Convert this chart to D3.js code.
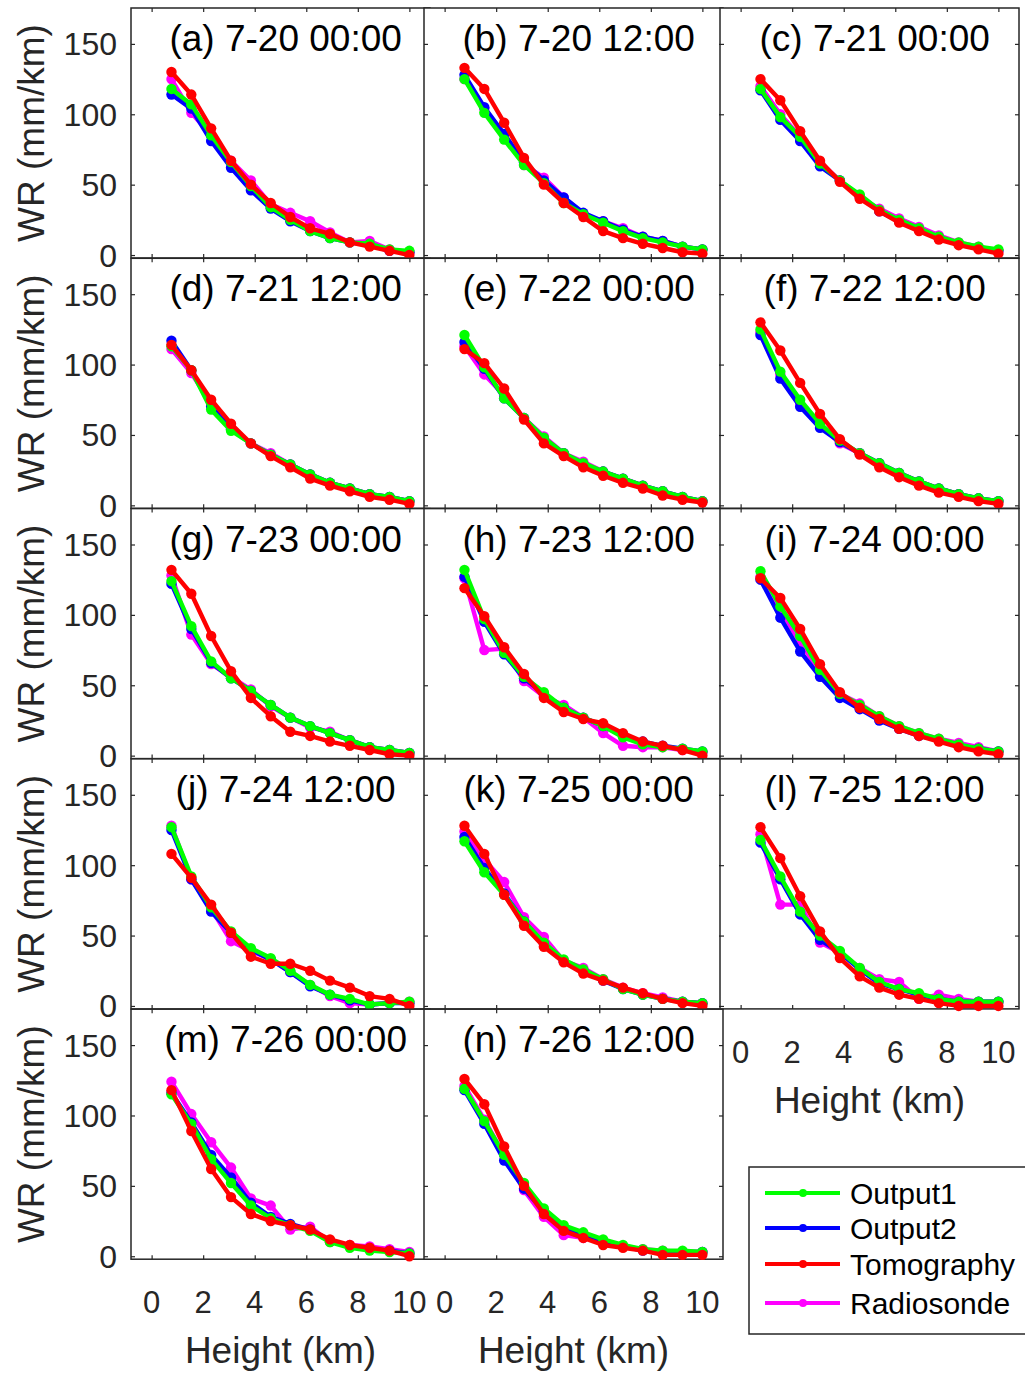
<!DOCTYPE html>
<html>
<head>
<meta charset="utf-8">
<script src="https://cdn.jsdelivr.net/npm/d3@7"></script>
<style>
  body { margin: 0; background: #fff; }
  svg { display: block; font-family: "Liberation Sans", Arial, sans-serif; }
</style>
</head>
<body>
<div id="chart"></div>
<script>
    // Heights of the profile levels (km)
    const heights = [0.77, 1.54, 2.31, 3.08, 3.85, 4.62, 5.38, 6.15, 6.92, 7.69, 8.46, 9.23, 10.0];

    const panelTitles = [
      "(a) 7-20 00:00", "(b) 7-20 12:00", "(c) 7-21 00:00",
      "(d) 7-21 12:00", "(e) 7-22 00:00", "(f) 7-22 12:00",
      "(g) 7-23 00:00", "(h) 7-23 12:00", "(i) 7-24 00:00",
      "(j) 7-24 12:00", "(k) 7-25 00:00", "(l) 7-25 12:00",
      "(m) 7-26 00:00", "(n) 7-26 12:00"
    ];

    const xTicks = [0, 2, 4, 6, 8, 10];
    const yTicks = [0, 50, 100, 150];

    const seriesNames = ["Output1", "Output2", "Tomography", "Radiosonde"];

    // WR (mm/km) per panel, one row per panel
    const output1 = [
      [118, 107, 85, 66, 49, 34, 25, 17, 12, 9, 8, 4, 3],
      [125, 101, 82, 64, 51, 37, 29, 23, 17, 12, 9, 6, 4],
      [118, 98, 84, 65, 53, 43, 32, 25, 19, 13, 9, 6, 4],
      [113, 96, 68, 53, 44, 36, 29, 22, 16, 12, 8, 6, 3],
      [121, 98, 76, 62, 48, 37, 30, 24, 19, 14, 10, 6, 3],
      [125, 95, 75, 58, 46, 37, 30, 23, 17, 12, 8, 5, 3],
      [124, 92, 67, 55, 46, 36, 27, 21, 16, 11, 6, 4, 2],
      [132, 97, 73, 56, 45, 34, 27, 21, 13, 8, 6, 5, 3],
      [131, 106, 85, 61, 44, 36, 28, 21, 16, 12, 8, 5, 3],
      [127, 92, 70, 53, 41, 34, 25, 15, 8, 5, 1, 2, 3],
      [117, 95, 79, 60, 45, 33, 26, 19, 12, 8, 5, 3, 2],
      [118, 92, 67, 50, 39, 27, 17, 12, 9, 5, 3, 3, 3],
      [115, 94, 69, 52, 36, 27, 22, 18, 10, 6, 4, 3, 2],
      [119, 96, 72, 52, 34, 22, 17, 12, 8, 5, 4, 4, 3]
    ];

    const output2 = [
      [114, 104, 81, 62, 46, 33, 24, 17, 12, 9, 7, 3, 2],
      [128, 105, 86, 66, 53, 41, 30, 24, 18, 13, 10, 6, 4],
      [117, 96, 81, 63, 53, 42, 31, 24, 18, 12, 8, 5, 3],
      [117, 96, 70, 54, 44, 36, 29, 22, 16, 12, 8, 6, 3],
      [116, 97, 76, 62, 47, 37, 29, 24, 19, 14, 10, 6, 3],
      [121, 90, 70, 55, 45, 37, 30, 23, 17, 12, 8, 5, 3],
      [122, 90, 66, 55, 46, 36, 27, 21, 16, 11, 6, 4, 2],
      [127, 95, 72, 55, 44, 34, 27, 21, 14, 10, 7, 5, 3],
      [125, 98, 74, 56, 41, 33, 25, 19, 14, 11, 7, 5, 3],
      [125, 90, 67, 52, 40, 33, 24, 14, 8, 4, 1, 2, 2],
      [120, 98, 80, 60, 44, 32, 25, 18, 12, 8, 5, 3, 2],
      [116, 90, 65, 47, 38, 26, 16, 12, 8, 5, 3, 3, 3],
      [116, 95, 72, 56, 38, 28, 23, 19, 11, 7, 5, 4, 2],
      [118, 94, 68, 48, 32, 20, 15, 10, 7, 4, 3, 3, 3]
    ];

    const tomography = [
      [130, 114, 90, 67, 50, 37, 27, 19, 15, 9, 6, 3, 0],
      [133, 118, 94, 69, 50, 37, 27, 17, 12, 8, 5, 2, 1],
      [125, 110, 88, 67, 52, 40, 31, 23, 17, 11, 7, 4, 1],
      [114, 96, 75, 58, 44, 35, 27, 19, 14, 10, 6, 4, 1],
      [111, 101, 83, 61, 44, 35, 27, 21, 16, 12, 7, 4, 2],
      [130, 110, 87, 65, 47, 36, 27, 20, 14, 9, 6, 3, 1],
      [132, 115, 85, 60, 41, 28, 17, 14, 10, 7, 4, 1, 0],
      [119, 99, 77, 58, 41, 31, 26, 23, 16, 10, 7, 4, 0],
      [126, 112, 90, 65, 45, 34, 26, 19, 14, 10, 6, 3, 1],
      [108, 91, 72, 52, 35, 30, 30, 25, 18, 13, 7, 5, 0],
      [128, 108, 79, 57, 42, 31, 23, 18, 13, 9, 5, 2, 0],
      [127, 105, 78, 53, 34, 21, 13, 8, 5, 2, 0, 0, 0],
      [118, 89, 62, 42, 30, 25, 22, 19, 12, 8, 6, 4, 0],
      [126, 108, 78, 50, 30, 18, 13, 8, 6, 4, 1, 1, 1]
    ];

    const radiosonde = [
      [125, 101, 85, 67, 53, 36, 30, 24, 16, 9, 10, 4, 2],
      [125, 104, 86, 64, 55, 41, 29, 24, 19, 13, 10, 6, 4],
      [120, 100, 84, 66, 53, 41, 33, 26, 20, 14, 9, 6, 3],
      [111, 94, 72, 55, 44, 37, 29, 22, 16, 12, 8, 6, 3],
      [113, 93, 78, 62, 49, 37, 31, 24, 19, 14, 10, 6, 3],
      [123, 93, 72, 57, 44, 37, 30, 23, 17, 12, 8, 5, 3],
      [128, 86, 65, 56, 47, 35, 27, 20, 17, 11, 6, 4, 2],
      [126, 75, 76, 53, 42, 36, 27, 16, 7, 6, 6, 4, 2],
      [127, 104, 80, 60, 44, 37, 28, 21, 16, 12, 9, 6, 3],
      [128, 90, 69, 46, 39, 33, 24, 15, 7, 2, 1, 2, 3],
      [124, 104, 88, 63, 49, 32, 27, 19, 13, 9, 6, 3, 2],
      [122, 72, 72, 45, 38, 27, 19, 17, 5, 8, 5, 3, 3],
      [124, 101, 81, 63, 41, 36, 19, 21, 10, 8, 7, 5, 3],
      [121, 97, 72, 47, 28, 15, 13, 11, 7, 5, 4, 3, 3]
    ];

    const colors = {
      Output1: "#00ff00",
      Output2: "#0000ff",
      Tomography: "#ff0000",
      Radiosonde: "#ff00ff"
    };
    const seriesData = {
      Output1: output1, Output2: output2, Tomography: tomography, Radiosonde: radiosonde
    };
    // drawing order (last on top)
    const drawOrder = ["Radiosonde", "Output2", "Output1", "Tomography"];

    // Layout
    const W = 1025, H = 1376;
    const colLeft = [131, 424, 720];
    const panelW = 299, panelH = 250;
    const rowTop = 8, rowStep = 250.3;
    const axisColor = "#262626";

    const svg = d3.select("#chart")
      .append("svg")
        .attr("width", W)
        .attr("height", H);

    const x = d3.scaleLinear().domain([-0.8, 10.8]).range([0, panelW]);
    const y = d3.scaleLinear().domain([-2.1, 175.5]).range([panelH, 0]);

    const line = d3.line()
      .x((d, i) => x(heights[i]))
      .y(d => y(d));

    panelTitles.forEach((title, p) => {
      const row = Math.floor(p / 3), col = p % 3;
      const g = svg.append("g")
        .attr("transform", `translate(${colLeft[col]},${rowTop + row * rowStep})`);

      // white axes background
      g.append("rect")
        .attr("width", panelW).attr("height", panelH)
        .attr("fill", "#fff");

      // ticks on all four sides, pointing inward
      g.append("g")
        .attr("transform", `translate(0,${panelH})`)
        .call(d3.axisBottom(x).tickValues(xTicks).tickSizeInner(-4).tickSizeOuter(0).tickFormat(""));
      g.append("g")
        .call(d3.axisTop(x).tickValues(xTicks).tickSizeInner(-4).tickSizeOuter(0).tickFormat(""));
      g.append("g")
        .call(d3.axisLeft(y).tickValues(yTicks).tickSizeInner(-4).tickSizeOuter(0).tickFormat(""));
      g.append("g")
        .attr("transform", `translate(${panelW},0)`)
        .call(d3.axisRight(y).tickValues(yTicks).tickSizeInner(-4).tickSizeOuter(0).tickFormat(""));
      g.selectAll(".domain").remove();
      g.selectAll(".tick line").attr("stroke", axisColor).attr("stroke-width", 1.2);

      g.append("rect")
        .attr("width", panelW).attr("height", panelH)
        .attr("fill", "none")
        .attr("stroke", axisColor)
        .attr("stroke-width", 1.5);

      // y tick labels on the first column
      if (col === 0) {
        g.selectAll(".ylab")
          .data(yTicks)
          .enter()
          .append("text")
            .attr("x", -14)
            .attr("y", d => y(d))
            .attr("dy", "0.36em")
            .attr("text-anchor", "end")
            .attr("font-size", 32)
            .attr("fill", axisColor)
            .text(d => d);

        g.append("text")
          .attr("transform", `translate(${44 - colLeft[0]},${panelH / 2}) rotate(-90)`)
          .attr("text-anchor", "middle")
          .attr("font-size", 37)
          .attr("fill", axisColor)
          .text("WR (mm/km)");
      }

      // x tick labels under the bottom panel of each column
      const isBottom = (row === 4) || (row === 3 && col === 2);
      if (isBottom) {
        g.selectAll(".xlab")
          .data(xTicks)
          .enter()
          .append("text")
            .attr("x", d => x(d))
            .attr("y", panelH + 54)
            .attr("text-anchor", "middle")
            .attr("font-size", 31)
            .attr("fill", axisColor)
            .text(d => d);

        g.append("text")
          .attr("x", x(5))
          .attr("y", panelH + 104)
          .attr("text-anchor", "middle")
          .attr("font-size", 37)
          .attr("fill", axisColor)
          .text("Height (km)");
      }

      // series
      drawOrder.forEach(name => {
        const vals = seriesData[name][p];
        g.append("path")
          .datum(vals)
          .attr("d", line)
          .attr("fill", "none")
          .attr("stroke", colors[name])
          .attr("stroke-width", 4.4)
          .attr("stroke-linejoin", "round");
        g.selectAll(".pt-" + name)
          .data(vals)
          .enter()
          .append("circle")
            .attr("cx", (d, i) => x(heights[i]))
            .attr("cy", d => y(d))
            .attr("r", 5.2)
            .attr("fill", colors[name]);
      });

      // panel title
      g.append("text")
        .attr("x", x(5.2))
        .attr("y", 43)
        .attr("text-anchor", "middle")
        .attr("font-size", 37)
        .attr("fill", "#000")
        .text(title);
    });

    // Legend
    const legend = svg.append("g").attr("transform", "translate(749,1167)");
    legend.append("rect")
      .attr("width", 282).attr("height", 167)
      .attr("fill", "#fff")
      .attr("stroke", axisColor)
      .attr("stroke-width", 1.5);

    const legendY = [26, 61, 97, 136];
    seriesNames.forEach((name, i) => {
      const ly = legendY[i];
      legend.append("line")
        .attr("x1", 16).attr("x2", 91)
        .attr("y1", ly).attr("y2", ly)
        .attr("stroke", colors[name])
        .attr("stroke-width", 4);
      legend.append("circle")
        .attr("cx", 54).attr("cy", ly).attr("r", 4)
        .attr("fill", colors[name]);
      legend.append("text")
        .attr("x", 101)
        .attr("y", ly)
        .attr("dy", "0.36em")
        .attr("font-size", 30)
        .attr("fill", "#000")
        .text(name);
    });
</script>
</body>
</html>
